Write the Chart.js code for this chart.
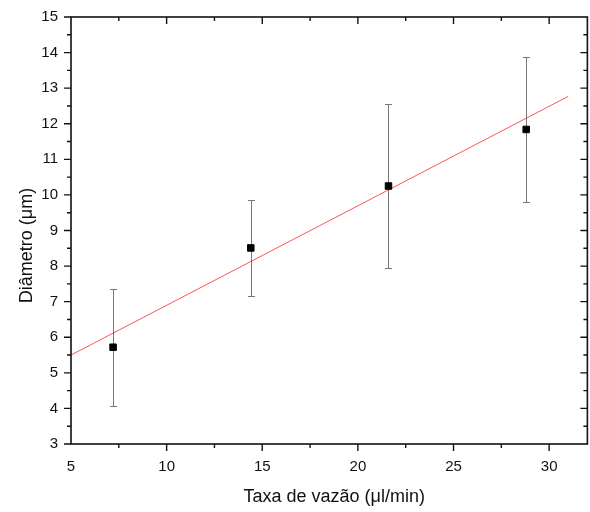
<!DOCTYPE html>
<html>
<head>
<meta charset="utf-8">
<script src="https://cdn.jsdelivr.net/npm/chart.js@4/dist/chart.umd.min.js"></script>
<style>
  html, body { margin: 0; padding: 0; background: #fff; overflow: hidden; }
  #wrap { width: 593px; height: 512px; position: relative; }
</style>
</head>
<body>
<div id="wrap"><canvas id="chart"></canvas></div>
<script>
// flow rate (µl/min) vs. mean diameter (µm), with standard deviation
const flowRates = [7.2, 14.4, 21.6, 28.8];
const diameters = [5.72, 8.51, 10.25, 11.84];
const diameterErr = [1.64, 1.36, 2.31, 2.03];

// linear fit endpoints
const fitX = [5, 31];
const fitY = [5.5, 12.77];

const xTicks = [5, 10, 15, 20, 25, 30];
const yTicks = [3, 4, 5, 6, 7, 8, 9, 10, 11, 12, 13, 14, 15];

const xTitle = "Taxa de vazão (μl/min)";
const yTitle = "Diâmetro (μm)";

const FONT = "'Liberation Sans', Arial, sans-serif";

// keep the plot box fixed: no extra room for overhanging tick labels
function noLabelPadding(s) {
    s.paddingLeft = s.paddingRight = s.paddingTop = s.paddingBottom = 0;
}

// error bars drawn from the y scale
const errorBars = {
    id: "errorBars",
    beforeDatasetsDraw(chart) {
        const { ctx, scales: { x, y } } = chart;
        ctx.save();
        ctx.strokeStyle = "#777";
        ctx.lineWidth = 1;
        flowRates.forEach((fx, i) => {
            const px = Math.round(x.getPixelForValue(fx)) + 0.5;
            const top = Math.round(y.getPixelForValue(diameters[i] + diameterErr[i])) + 0.5;
            const bot = Math.round(y.getPixelForValue(diameters[i] - diameterErr[i])) + 0.5;
            ctx.beginPath();
            ctx.moveTo(px, top); ctx.lineTo(px, bot);
            ctx.moveTo(px - 3.5, top); ctx.lineTo(px + 3.5, top);
            ctx.moveTo(px - 3.5, bot); ctx.lineTo(px + 3.5, bot);
            ctx.stroke();
        });
        ctx.restore();
    }
};

// boxed frame with major/minor ticks (out on left/bottom, in on top/right) and axis titles
const frame = {
    id: "frame",
    afterDraw(chart) {
        const { ctx, chartArea: a, scales: { x, y } } = chart;
        ctx.save();
        ctx.strokeStyle = "#111";
        ctx.lineWidth = 1.6;
        ctx.strokeRect(a.left, a.top, a.right - a.left, a.bottom - a.top);
        ctx.lineWidth = 1.4;
        ctx.beginPath();
        for (let v = 7.5; v <= 32; v += 2.5) {
            const px = x.getPixelForValue(v);
            const len = v % 5 === 0 ? 7 : 4;
            ctx.moveTo(px, a.bottom); ctx.lineTo(px, a.bottom + len);
            ctx.moveTo(px, a.top); ctx.lineTo(px, a.top + len);
        }
        for (let v = 3; v <= 15; v += 0.5) {
            const py = y.getPixelForValue(v);
            const len = v % 1 === 0 ? 7 : 4;
            ctx.moveTo(a.left, py); ctx.lineTo(a.left - len, py);
            if (v !== 3 && v !== 15) {
                ctx.moveTo(a.right, py); ctx.lineTo(a.right - len, py);
            }
        }
        ctx.stroke();

        ctx.fillStyle = "#111";
        ctx.font = "18px " + FONT;
        ctx.textAlign = "center";
        ctx.textBaseline = "middle";
        ctx.fillText(xTitle, (a.left + a.right) / 2 + 5, 497);
        ctx.translate(27, (a.top + a.bottom) / 2 + 15);
        ctx.rotate(-Math.PI / 2);
        ctx.fillText(yTitle, 0, 0);
        ctx.restore();
    }
};

new Chart(document.getElementById("chart"), {
    type: "scatter",
    data: {
        datasets: [
            {
                label: "Diâmetro",
                data: flowRates.map((fx, i) => ({ x: fx, y: diameters[i] })),
                pointStyle: "rect",
                pointRadius: 4.6,
                backgroundColor: "#000",
                borderColor: "#000",
                borderWidth: 1
            },
            {
                label: "Ajuste linear",
                type: "line",
                data: fitX.map((fx, i) => ({ x: fx, y: fitY[i] })),
                borderColor: "rgba(255, 40, 40, 0.8)",
                borderWidth: 1,
                pointRadius: 0,
                fill: false
            }
        ]
    },
    options: {
        responsive: true,
        maintainAspectRatio: false,
        animation: false,
        layout: { padding: { top: 17, right: 2, left: 0, bottom: 0 } },
        plugins: {
            legend: { display: false },
            tooltip: { enabled: false }
        },
        scales: {
            x: {
                type: "linear",
                min: 5,
                max: 32,
                afterBuildTicks: s => { s.ticks = xTicks.map(v => ({ value: v })); },
                afterFit: s => { s.height = 68; noLabelPadding(s); },
                grid: { display: false, drawTicks: false },
                border: { display: false },
                ticks: {
                    padding: 14,
                    color: "#111",
                    font: { family: FONT, size: 15 },
                    maxRotation: 0
                }
            },
            y: {
                type: "linear",
                min: 3,
                max: 15,
                afterBuildTicks: s => { s.ticks = yTicks.map(v => ({ value: v })); },
                afterFit: s => { s.width = 71; noLabelPadding(s); },
                grid: { display: false, drawTicks: false },
                border: { display: false },
                ticks: {
                    padding: 13,
                    color: "#111",
                    font: { family: FONT, size: 15 }
                }
            }
        }
    },
    plugins: [errorBars, frame]
});
</script>
</body>
</html>
